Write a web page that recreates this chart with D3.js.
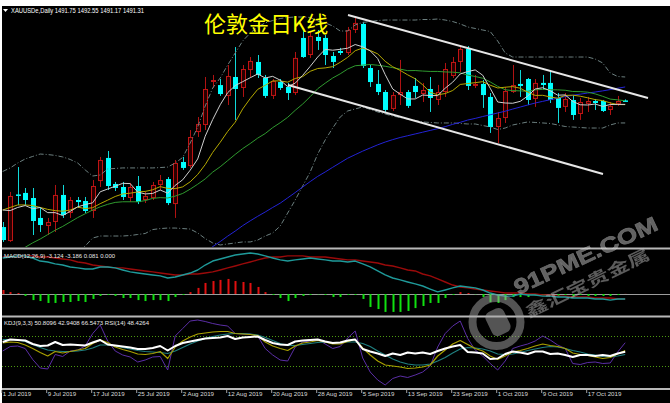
<!DOCTYPE html>
<html><head><meta charset="utf-8">
<script src="https://cdn.jsdelivr.net/npm/d3@7"></script>
<style>html,body{margin:0;padding:0;background:#fff;}svg{display:block}</style>
</head><body><svg id="c" width="670" height="403"></svg>
<script>
// ---------- DATA ----------
const dates = [
"2019-07-01","2019-07-02","2019-07-03","2019-07-04","2019-07-05","2019-07-08","2019-07-09","2019-07-10","2019-07-11","2019-07-12",
"2019-07-15","2019-07-16","2019-07-17","2019-07-18","2019-07-19","2019-07-22","2019-07-23","2019-07-24","2019-07-25","2019-07-26",
"2019-07-29","2019-07-30","2019-07-31","2019-08-01","2019-08-02","2019-08-05","2019-08-06","2019-08-07","2019-08-08","2019-08-09",
"2019-08-12","2019-08-13","2019-08-14","2019-08-15","2019-08-16","2019-08-19","2019-08-20","2019-08-21","2019-08-22","2019-08-23",
"2019-08-26","2019-08-27","2019-08-28","2019-08-29","2019-08-30","2019-09-02","2019-09-03","2019-09-04","2019-09-05","2019-09-06",
"2019-09-09","2019-09-10","2019-09-11","2019-09-12","2019-09-13","2019-09-16","2019-09-17","2019-09-18","2019-09-19","2019-09-20",
"2019-09-23","2019-09-24","2019-09-25","2019-09-26","2019-09-27","2019-09-30","2019-10-01","2019-10-02","2019-10-03","2019-10-04",
"2019-10-07","2019-10-08","2019-10-09","2019-10-10","2019-10-11","2019-10-14","2019-10-15","2019-10-16","2019-10-17","2019-10-18",
"2019-10-21","2019-10-22","2019-10-23","2019-10-24"];
const open = [1391.5,1380.4,1417.3,1418.5,1414.5,1398.7,1392.3,1395.5,1416.9,1402.6,
1412.9,1412.1,1404.2,1427.9,1446.2,1425.6,1423.2,1414.5,1424.0,1412.9,
1414.5,1424.8,1429.5,1409.7,1443.0,1439.8,1466.7,1472.3,1506.3,1503.9,
1495.3,1510.3,1501.6,1515.8,1522.2,1509.5,1495.3,1506.3,1502.4,1497.6,
1541.2,1527.7,1542.0,1541.2,1526.9,1530.9,1529.3,1547.5,1552.3,1517.4,
1504.8,1498.4,1485.0,1496.0,1498.4,1503.2,1496.8,1500.8,1492.1,1498.4,
1511.1,1522.2,1532.5,1503.2,1504.8,1494.5,1470.7,1477.8,1498.4,1504.8,
1508.7,1492.9,1505.6,1505.6,1493.7,1486.6,1492.1,1481.0,1489.0,1491.3,
1491.3,1484.2,1489.0,1491.75];
const high = [1395.5,1419.3,1439.0,1422.4,1422.4,1406.6,1398.7,1424.8,1424.8,1415.3,
1415.3,1415.3,1428.7,1447.0,1451.7,1427.2,1427.2,1426.4,1431.9,1419.3,
1427.2,1432.7,1431.1,1444.6,1447.0,1468.3,1478.6,1510.3,1511.9,1508.7,
1519.8,1534.0,1519.8,1526.1,1527.7,1511.9,1508.7,1508.7,1505.6,1530.1,
1547.5,1546.0,1547.5,1543.6,1530.1,1533.3,1549.9,1557.0,1553.9,1519.8,
1515.8,1500.0,1498.4,1523.8,1500.0,1509.5,1505.6,1510.3,1504.0,1521.4,
1526.1,1534.8,1534.8,1511.9,1507.9,1497.6,1482.6,1502.4,1519.8,1515.8,
1509.5,1508.7,1511.9,1515.8,1497.6,1497.6,1496.0,1493.7,1494.5,1492.9,
1492.1,1490.5,1495.3,1492.55];
const low = [1379.7,1379.7,1408.9,1408.9,1385.2,1387.6,1385.2,1387.6,1398.7,1398.7,
1406.6,1402.6,1398.7,1423.2,1420.8,1420.0,1412.9,1411.3,1409.7,1410.5,
1412.9,1420.8,1408.9,1398.7,1436.7,1438.3,1462.8,1468.3,1501.6,1495.3,
1488.1,1476.3,1494.5,1510.3,1509.5,1493.7,1492.9,1500.0,1492.1,1496.0,
1525.4,1525.4,1531.7,1519.8,1517.4,1527.7,1527.7,1545.1,1517.4,1502.4,
1496.0,1482.6,1483.4,1488.1,1485.8,1493.7,1490.5,1482.6,1488.1,1494.5,
1509.5,1514.3,1500.0,1501.6,1485.8,1466.0,1458.0,1473.9,1497.6,1494.5,
1488.1,1486.6,1500.0,1489.7,1473.9,1482.6,1476.3,1476.3,1482.6,1484.2,
1482.6,1480.2,1487.4,1491.17];
const close = [1381.2,1416.1,1416.5,1412.9,1396.3,1393.1,1395.5,1416.9,1401.0,1412.9,
1411.3,1404.2,1424.0,1444.6,1424.0,1422.4,1415.3,1423.2,1411.3,1416.1,
1424.8,1428.7,1410.5,1442.2,1438.3,1462.8,1473.1,1500.8,1507.9,1496.8,
1511.1,1500.8,1516.6,1523.0,1511.9,1495.3,1507.1,1501.6,1497.6,1525.4,
1526.1,1542.8,1538.8,1527.7,1522.2,1529.3,1547.5,1553.1,1519.0,1506.3,
1498.4,1484.2,1496.0,1498.4,1487.4,1498.4,1500.0,1493.7,1498.4,1516.6,
1522.2,1532.5,1503.2,1504.8,1496.0,1470.7,1477.8,1499.2,1503.9,1503.2,
1492.1,1505.6,1504.0,1492.1,1485.8,1492.9,1480.2,1490.5,1491.3,1489.7,
1483.4,1487.4,1491.3,1491.31];
const ma5 = [1405.0,1404.5,1407.0,1408.5,1406.0,1407.0,1402.9,1402.9,1400.6,1403.9,
1407.5,1409.3,1410.7,1419.4,1421.6,1423.8,1426.1,1425.9,1419.2,1417.7,
1418.1,1420.8,1418.3,1424.5,1428.9,1436.5,1445.4,1463.4,1476.6,1488.3,
1497.9,1503.5,1506.6,1509.7,1512.7,1509.5,1510.8,1507.8,1502.7,1505.4,
1511.6,1518.7,1526.1,1532.2,1531.5,1532.2,1533.1,1536.0,1534.2,1531.0,
1524.9,1512.2,1500.8,1496.7,1492.9,1492.9,1496.0,1495.6,1495.6,1501.4,
1506.2,1512.7,1514.6,1515.9,1511.7,1501.4,1490.5,1489.7,1489.5,1491.0,
1495.2,1500.8,1501.8,1499.4,1495.9,1496.1,1491.0,1488.3,1488.1,1488.9,
1487.0,1488.5,1488.6,1488.6];
const ma10 = [1405,1407,1409,1409,1408.5,1407,1405.5,1404.5,1404,1405.0,
1407.3,1406.1,1406.8,1410.0,1412.8,1415.7,1417.7,1418.3,1419.3,1419.7,
1421.0,1423.5,1422.1,1421.9,1423.3,1427.3,1433.1,1440.9,1450.6,1458.6,
1467.2,1474.5,1485.0,1493.2,1500.5,1503.7,1507.2,1507.2,1506.2,1509.1,
1510.6,1514.8,1517.0,1517.5,1518.5,1521.9,1525.9,1531.1,1533.2,1531.3,
1528.6,1522.7,1518.4,1515.5,1512.0,1508.9,1504.1,1498.2,1496.2,1497.2,
1499.6,1504.4,1505.1,1505.8,1506.6,1503.8,1501.6,1502.2,1502.7,1501.4,
1498.3,1495.7,1495.8,1494.5,1493.5,1495.7,1495.9,1495.1,1493.8,1492.4,
1491.6,1489.8,1488.5,1488.4];
const ma20 = [1365,1369,1372,1375.5,1379,1382,1385.5,1389,1392,1395.5,
1399,1402,1405,1407.5,1409.5,1411,1411.5,1411.5,1411.5,1412.4,
1414.2,1414.8,1414.5,1416.0,1418.1,1421.5,1425.4,1429.6,1435.0,1439.2,
1444.1,1449.0,1453.6,1457.6,1461.9,1465.5,1470.2,1474.1,1478.4,1483.9,
1488.9,1494.7,1501.0,1505.4,1509.5,1512.8,1516.6,1519.2,1519.7,1520.2,
1519.6,1518.8,1517.7,1516.5,1515.3,1515.4,1515.0,1514.7,1514.7,1514.3,
1514.1,1513.6,1511.8,1510.7,1509.3,1506.4,1502.9,1500.2,1499.5,1499.3,
1499.0,1500.1,1500.5,1500.2,1500.1,1499.8,1498.8,1498.7,1498.3,1496.9,
1495.0,1492.8,1492.2,1491.5];
const ma60 = [null,null,null,null,null,null,null,null,null,null,
null,null,null,null,null,null,null,null,null,null,
null,null,null,null,null,null,null,1371.7,1376.0,1380.0,
1384.3,1388.3,1392.6,1396.4,1400.0,1403.4,1407.0,1410.4,1414.6,1418.8,
1423.2,1427.5,1431.6,1435.1,1438.8,1442.4,1446.0,1448.8,1451.6,1454.1,
1456.6,1458.8,1460.7,1462.4,1463.8,1465.2,1466.6,1468.0,1469.4,1471.0,
1472.8,1474.4,1476.2,1477.5,1479.0,1480.4,1481.8,1483.2,1484.9,1486.5,
1488.1,1489.7,1491.0,1492.3,1493.5,1494.8,1495.8,1496.7,1497.6,1498.4,
1499.3,1500.3,1501.4,1502.4];
const bbUpper = [1435.5,1438.3,1442.2,1445.4,1447.4,1449.3,1448.9,1448.2,1447.0,1445.0,
1442.2,1436.7,1431.9,1432.7,1437.5,1437.9,1438.3,1438.3,1438.3,1438.3,
1438.3,1438.6,1439.0,1442.2,1446.6,1458.0,1470.7,1487.3,1501.6,1509.5,
1519.8,1529.3,1538.8,1545.1,1549.9,1553.1,1555.0,1556.6,1557.4,1557.8,
1557.8,1557.4,1554.6,1553.1,1550.7,1546.7,1546.7,1551.5,1553.5,1554.2,
1555.0,1555.4,1555.4,1555.4,1555.4,1555.4,1555.8,1555.8,1556.2,1555.4,
1554.2,1552.3,1549.9,1548.7,1547.5,1546.3,1538.8,1529.3,1526.1,1526.1,
1526.1,1526.1,1526.1,1526.1,1526.1,1526.1,1526.1,1526.1,1526.1,1524.5,
1521.4,1513.5,1510.7,1510.3];
const bbLower = [null,null,null,null,null,null,null,null,null,1368.6,
1371.7,1376.5,1382.8,1384.4,1384.4,1384.4,1384.4,1384.8,1385.6,1386.4,
1389.5,1390.3,1390.7,1390.7,1390.3,1389.9,1386.8,1382.4,1378.9,1377.3,
1378.1,1378.9,1379.7,1379.7,1381.2,1384.4,1386.8,1392.3,1402.6,1412.9,
1424.0,1435.1,1449.3,1460.4,1469.9,1478.6,1483.4,1485.0,1486.6,1484.6,
1482.6,1481.0,1479.4,1478.2,1477.0,1475.9,1474.7,1474.3,1473.9,1473.9,
1473.9,1473.5,1473.1,1473.1,1471.9,1470.7,1468.7,1469.9,1472.3,1473.5,
1474.7,1474.3,1473.9,1473.5,1472.3,1471.1,1470.7,1470.3,1469.9,1469.9,
1469.9,1472.3,1473.9,1473.9];
// trend channel (bar index, price)
const channelUpper = [[46.04,1559.4],[86.04,1493.7]];
const channelLower = [[38.04,1504.0],[80.04,1433.5]];

const macdLine = [22.5,23.1,23.8,23.8,22.5,20.6,20.0,18.8,18.1,16.9,
16.3,15.6,15.6,16.9,16.9,16.3,15.0,13.8,13.1,12.5,
11.9,11.3,10.0,10.6,11.9,13.1,15.0,18.1,20.6,21.9,
23.1,24.4,25.0,25.6,25.0,23.8,22.5,21.3,20.6,21.3,
21.9,22.5,21.9,21.3,20.6,20.6,20.0,20.6,18.8,16.9,
14.4,11.9,10.0,8.8,7.5,6.3,5.0,3.1,1.3,2.5,
3.8,5.0,4.4,3.8,2.5,0.6,-0.6,-1.3,-1.3,0.0,
-0.6,-0.6,-1.3,-1.3,-1.9,-1.9,-2.5,-2.5,-2.5,-3.1,
-3.1,-3.8,-3.1,-3.124];
const macdSignal = [23.1,23.1,23.8,23.8,23.8,23.1,23.1,22.5,21.9,21.3,
20.0,19.4,18.1,17.5,16.9,16.3,16.3,15.6,15.0,14.4,
13.8,13.1,12.5,11.9,11.9,12.5,12.5,13.1,13.8,15.0,
16.3,17.5,18.8,20.0,21.3,22.5,23.1,23.1,23.8,23.8,
23.8,23.1,23.1,23.1,22.5,21.9,21.3,21.3,20.6,20.0,
19.4,18.1,17.5,16.3,15.0,14.4,12.5,11.3,9.4,7.5,
5.6,4.4,3.8,3.1,2.5,1.9,1.3,0.6,0.6,0.6,
0.0,0.0,-0.6,-0.6,-1.3,-1.3,-1.9,-1.9,-1.9,-2.5,
-2.5,-2.5,-3.1,-3.186];
const macdHist = [2.5,1.2,0.6,-1.2,-3.8,-4.4,-5.6,-5.6,-5,-5,
-4.4,-5,-3.1,-1.2,-0.6,-1.2,-2.5,-2.5,-3.8,-4.4,
-3.8,-3.8,-4.4,-1.9,-0.6,1.2,3.8,6.9,8.1,8.8,
9.4,8.1,7.5,6.9,4.4,1.2,-0.6,-2.5,-4.4,-2.5,
-1.2,-0.6,-0.2,-0.6,-1.9,-1.9,-0.6,-0.6,-3.1,-8.1,
-9.4,-11.2,-11.2,-11.2,-10.6,-8.8,-7.5,-5.6,-5.6,-2.5,
-0.6,1.2,0.6,-0.2,-1.9,-5,-5.6,-3.8,-1.9,-1.9,
-1.9,-0.9,-0.6,-0.2,-1.2,-0.6,-1.9,-0.6,-1.2,-1.2,
-1.2,-1.2,-0.6,0.081];

const kLine = [66,68,67,62,55,47,40,49,46,49, 52,55,65,72,67,58,53,49,44,43,
45,49,35,58,70,78,84,86,88,89, 89,85,84,83,81,68,60,55,51,60,
66,68,71,68,64,64,69,73,56,42, 30,22,20,18,15,16,18,22,40,52,
64,71,63,55,50,40,33,40,48,51, 55,60,64,61,59,55,46,43,41,38,
35,37,44,50.8096];
const dLine = [73,73,72,69,63,57,52,50,49,49, 50,52,56,62,62,60,57,54,51,49,
48,47,45,50,57,64,70,75,79,82, 84,85,85,84,82,77,71,65,61,61,
63,65,67,68,66,67,68,68,65,59, 50,42,34,28,24,22,22,24,30,37,
46,54,57,56,54,50,44,43,44,47, 51,54,57,59,58,55,51,48,44,42,
39,38,40,42.9408];
const jLine = [50,59,60,55,33,16,14,43,39,50, 52,60,85,102,70,50,42,38,28,32,
38,39,12,80,95,110,112,109,105,102, 100,85,84,84,80,55,42,32,30,58,
68,70,73,64,55,59,76,90,36,8, -8,-18,-5,0,-3,2,8,20,58,85,
100,110,75,52,40,25,12,30,55,60, 64,70,80,72,62,55,25,23,27,28,
25,26,48,66.5473];
const rsi = [68,73,72,71,64,60,61,68,62,63, 62,61,67,72,63,61,59,57,54,54,
56,60,51,60,66,69,72,75,76,77, 80,74,77,78,79,72,66,63,62,69,
71,72,73,69,66,67,71,73,54,49, 45,40,45,42,47,45,47,44,50,55,
59,62,48,47,45,34,35,44,49,47, 44,49,49,44,45,42,38,42,42,40,
42,40,45,48.4264];
const kdjLevels = [80, 20];
const tickIdx = [0,6,12,18,24,30,36,42,48,54,60,66,72,78];

const headerText = "XAUUSDe,Daily  1491.75 1492.55 1491.17 1491.31";
const titleText = "伦敦金日K线";
const macdLabel = "MACD(12,26,9) -3.124 -3.186 0.081 0.000";
const kdjLabel = "KDJ(9,3,3) 50.8096 42.9408 66.5473  RSI(14) 48.4264";
const wmLatin = "91PME.COM";
const wmChinese = "鑫汇宝贵金属";

// ---------- DRAW ----------
const svg = d3.select('#c');
svg.append('rect').attr('width',670).attr('height',403).attr('fill','#fff');
svg.append('rect').attr('x',2).attr('y',6).attr('width',668).attr('height',397).attr('fill','#000');

const idx = d3.range(dates.length);
const x = d3.scaleLinear().domain([0, 83]).range([2.7, 625.2]);
const yP = d3.scaleLinear().domain([1375.7, 1566.5]).range([247, 6]);
const yM = d3.scaleLinear().domain([-13.75, 27.5]).range([316, 250]);
const yK = d3.scaleLinear().domain([-24, 118]).range([388, 317]);

const defs = svg.append('defs');
function clip(id, y0, h){ defs.append('clipPath').attr('id',id).append('rect').attr('x',2).attr('y',y0).attr('width',668).attr('height',h); }
clip('cMain',6,241); clip('cMacd',250,65); clip('cKdj',318,70);

const gMain = svg.append('g').attr('clip-path','url(#cMain)');
const gMacd = svg.append('g').attr('clip-path','url(#cMacd)');
const gKdj = svg.append('g').attr('clip-path','url(#cKdj)');

// candles
const cx = i => Math.round(x(i));
const up = i => close[i] >= open[i];
const candles = gMain.append('g').selectAll('g').data(idx).join('g');
candles.append('line')
  .attr('x1', i => cx(i)+0.5).attr('x2', i => cx(i)+0.5)
  .attr('y1', i => yP(high[i])).attr('y2', i => yP(low[i]))
  .attr('stroke', i => up(i) ? '#b01212' : '#10d8d8').attr('stroke-width',1);
candles.append('rect')
  .attr('x', i => up(i) ? cx(i)-2+0.5 : cx(i)-2)
  .attr('width', i => up(i) ? 4 : 5)
  .attr('y', i => yP(Math.max(open[i], close[i])) + (up(i) ? 0.5 : 0))
  .attr('height', i => Math.max(up(i) ? 1 : 1.5, Math.abs(yP(open[i]) - yP(close[i])) - (up(i) ? 1 : 0)))
  .attr('fill', i => up(i) ? '#2a0000' : '#00ffff')
  .attr('stroke', i => up(i) ? '#c01414' : 'none')
  .attr('stroke-width', 1);

function drawLine(g, arr, yS, color, w, dash){
  const ln = d3.line().defined(i => arr[i] !== null).x(i => x(i)).y(i => yS(arr[i]));
  const p = g.append('path').attr('d', ln(idx)).attr('fill','none').attr('stroke',color).attr('stroke-width',w)
    .attr('stroke-linejoin','round');
  if (dash) p.attr('stroke-dasharray', dash);
  return p;
}
drawLine(gMain, bbUpper, yP, '#6c7f7f', 1, '5,2,1,2');
drawLine(gMain, bbLower, yP, '#6c7f7f', 1, '5,2,1,2');
drawLine(gMain, ma60, yP, '#2323d6', 1);
drawLine(gMain, ma20, yP, '#2f9a2f', 1);
drawLine(gMain, ma10, yP, '#b4a800', 1);
drawLine(gMain, ma5, yP, '#cfcfcf', 1);

// channel lines
[channelUpper, channelLower].forEach(seg => {
  gMain.append('line')
    .attr('x1', x(seg[0][0])).attr('y1', yP(seg[0][1]))
    .attr('x2', x(seg[1][0])).attr('y2', yP(seg[1][1]))
    .attr('stroke','#e6e6e6').attr('stroke-width',2);
});

// MACD pane
gMacd.append('line').attr('x1',2).attr('x2',670).attr('y1',Math.round(yM(0))+0.5).attr('y2',Math.round(yM(0))+0.5)
  .attr('stroke','#9c9c9c').attr('stroke-width',1);
gMacd.append('g').selectAll('rect').data(idx).join('rect')
  .attr('x', i => cx(i)-0.5).attr('width', 2)
  .attr('y', i => Math.min(yM(0), yM(macdHist[i])))
  .attr('height', i => Math.abs(yM(macdHist[i]) - yM(0)))
  .attr('fill', i => macdHist[i] >= 0 ? '#e01010' : '#10e010');
drawLine(gMacd, macdSignal, yM, '#9a0a0a', 1.4);
drawLine(gMacd, macdLine, yM, '#1f9a9a', 1.4);

// KDJ pane
kdjLevels.forEach(v => {
  gKdj.append('line').attr('x1',2).attr('x2',670).attr('y1',Math.round(yK(v))+0.5).attr('y2',Math.round(yK(v))+0.5)
    .attr('stroke','#4c9a10').attr('stroke-width',1).attr('stroke-dasharray','1,2');
});
drawLine(gKdj, jLine, yK, '#5b2ea6', 1);
drawLine(gKdj, dLine, yK, '#1f7f7f', 1.2);
drawLine(gKdj, kLine, yK, '#a8a000', 1.2);
drawLine(gKdj, rsi, yK, '#ffffff', 2);

// separators
[248.5, 316.5, 389].forEach(y => {
  svg.append('line').attr('x1',2).attr('x2',670).attr('y1',y).attr('y2',y).attr('stroke','#b8b8b8').attr('stroke-width',2);
});

// x axis
const parse = d3.timeParse('%Y-%m-%d');
const fmt = d3.timeFormat('%-d %b %Y');
const axis = d3.axisBottom(x).tickValues(tickIdx).tickFormat(i => fmt(parse(dates[i]))).tickSizeInner(3).tickSizeOuter(0);
const gAx = svg.append('g').attr('transform','translate(0,390)').call(axis);
gAx.select('.domain').remove();
gAx.selectAll('.tick line').attr('stroke','#a0a0a0').attr('transform','translate(-1.5,0)');
gAx.selectAll('.tick text').attr('fill','#d8d8d8').attr('font-family','Liberation Sans, Arial, sans-serif')
  .attr('font-size',6.2).attr('text-anchor','start').attr('x',-0.5).attr('y',2).attr('dy','0.71em');

// texts
svg.append('path').attr('d','M3,9 L8,9 L5.5,12 Z').attr('fill','#fff');
svg.append('text').attr('x',11).attr('y',12.5).text(headerText)
  .attr('fill','#fff').attr('font-family','Liberation Sans, Arial, sans-serif').attr('font-size',6.5)
  .attr('textLength',133).attr('lengthAdjust','spacingAndGlyphs');
svg.append('text').attr('x',204).attr('y',31.5).text(titleText)
  .attr('fill','#ffff00').attr('font-family','Noto Sans CJK SC').attr('font-size',22);
svg.append('text').attr('x',4).attr('y',257.5).text(macdLabel)
  .attr('fill','#e8e8e8').attr('font-family','Liberation Sans, Arial, sans-serif').attr('font-size',6.2)
  .attr('textLength',111).attr('lengthAdjust','spacingAndGlyphs');
svg.append('text').attr('x',4).attr('y',324.5).text(kdjLabel)
  .attr('fill','#e8e8e8').attr('font-family','Liberation Sans, Arial, sans-serif').attr('font-size',6.2)
  .attr('textLength',145).attr('lengthAdjust','spacingAndGlyphs');

// watermark
const wm = svg.append('g').attr('opacity',0.5);
wm.append('circle').attr('cx',496.5).attr('cy',322).attr('r',24).attr('fill','none').attr('stroke','#a8a8a8').attr('stroke-width',8);
wm.append('rect').attr('x',488).attr('y',309).attr('width',20).attr('height',26).attr('rx',6)
  .attr('fill','#a8a8a8').attr('transform','rotate(-26,498,322)');
wm.append('text').attr('transform','translate(518,295) rotate(-25)').text(wmLatin)
  .attr('fill','#c4c4c4').attr('stroke','#e0e0e0').attr('stroke-width',0.6)
  .attr('font-family','Liberation Sans, Arial, sans-serif').attr('font-weight','bold').attr('font-size',21)
  .attr('textLength',156).attr('lengthAdjust','spacingAndGlyphs');
wm.append('text').attr('transform','translate(529,318) rotate(-26)').text(wmChinese)
  .attr('fill','#b8b8b8').attr('font-family','Noto Sans CJK SC').attr('font-weight','bold').attr('font-size',16)
  .attr('textLength',136).attr('lengthAdjust','spacingAndGlyphs');
</script></body></html>
